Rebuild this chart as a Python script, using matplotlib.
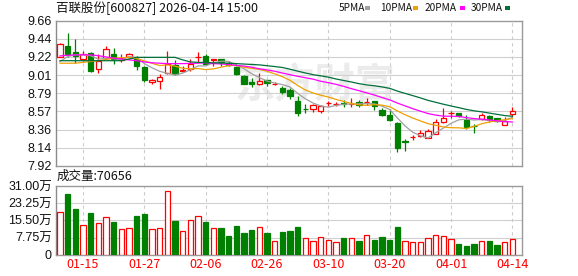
import numpy as np
import matplotlib
matplotlib.use("Agg")
import matplotlib.pyplot as plt
from matplotlib.patches import Rectangle

plt.rcParams['font.family'] = ['Liberation Sans', 'Noto Sans CJK SC']

# ---- data ----
dates = ['01-12', '01-13', '01-14', '01-15', '01-16', '01-19', '01-20', '01-21', '01-22', '01-23',
         '01-26', '01-27', '01-28', '01-29', '01-30', '02-02', '02-03', '02-04', '02-05', '02-06',
         '02-09', '02-10', '02-11', '02-12', '02-13', '02-24', '02-25', '02-26', '02-27', '03-02',
         '03-03', '03-04', '03-05', '03-06', '03-09', '03-10', '03-11', '03-12', '03-13', '03-16',
         '03-17', '03-18', '03-19', '03-20', '03-23', '03-24', '03-25', '03-26', '03-27', '03-30',
         '03-31', '04-01', '04-02', '04-03', '04-07', '04-08', '04-09', '04-10', '04-13', '04-14']

opens = [9.23, 9.36, 9.285, 9.205, 9.27, 9.078, 9.217, 9.26, 9.19, 9.22,
         9.205, 9.105, 8.923, 8.935, 9.03, 9.133, 9.055, 9.082, 9.22, 9.237,
         9.185, 9.197, 9.15, 9.105, 9.0, 8.923, 8.899, 8.947, 8.90, 8.858,
         8.83, 8.699, 8.60, 8.607, 8.58, 8.67, 8.66, 8.67, 8.66, 8.684,
         8.685, 8.699, 8.592, 8.536, 8.433, 8.213, 8.265, 8.273, 8.26, 8.308,
         8.448, 8.55, 8.553, 8.472, 8.402, 8.48, 8.52, 8.492, 8.409, 8.548]
highs = [9.39, 9.515, 9.44, 9.293, 9.285, 9.257, 9.356, 9.33, 9.26, 9.276,
         9.237, 9.117, 8.962, 9.018, 9.293, 9.19, 9.12, 9.197, 9.288, 9.257,
         9.205, 9.20, 9.177, 9.114, 9.01, 8.978, 9.037, 8.954, 8.92, 8.875,
         8.85, 8.755, 8.66, 8.667, 8.648, 8.70, 8.69, 8.71, 8.73, 8.707,
         8.738, 8.70, 8.612, 8.60, 8.452, 8.245, 8.29, 8.349, 8.368, 8.48,
         8.612, 8.576, 8.555, 8.528, 8.42, 8.56, 8.535, 8.50, 8.512, 8.62]
lows = [9.22, 9.23, 9.15, 9.18, 9.042, 9.037, 9.197, 9.14, 9.17, 9.21,
        9.07, 8.93, 8.906, 8.846, 9.018, 9.006, 9.04, 9.058, 9.17, 9.13,
        9.117, 9.114, 9.114, 9.01, 8.898, 8.866, 8.895, 8.875, 8.89, 8.786,
        8.727, 8.524, 8.552, 8.571, 8.552, 8.64, 8.64, 8.63, 8.63, 8.63,
        8.652, 8.59, 8.52, 8.46, 8.086, 8.10, 8.23, 8.266, 8.254, 8.305,
        8.44, 8.496, 8.512, 8.368, 8.313, 8.472, 8.448, 8.448, 8.409, 8.52]
closes = [9.38, 9.26, 9.24, 9.257, 9.061, 9.173, 9.317, 9.205, 9.21, 9.257,
          9.12, 8.95, 8.955, 8.986, 9.141, 9.018, 9.065, 9.141, 9.225, 9.141,
          9.195, 9.17, 9.126, 9.018, 8.906, 8.899, 8.942, 8.915, 8.905, 8.807,
          8.759, 8.552, 8.60, 8.648, 8.64, 8.676, 8.665, 8.664, 8.665, 8.652,
          8.69, 8.643, 8.528, 8.469, 8.141, 8.213, 8.27, 8.313, 8.34, 8.452,
          8.496, 8.553, 8.52, 8.385, 8.398, 8.528, 8.48, 8.464, 8.464, 8.58]

# volume in 万手
volumes = [19.2, 27.5, 20.7, 13.3, 19.0, 14.2, 16.9, 14.8, 11.5, 12.0,
           17.5, 18.4, 11.5, 12.0, 28.6, 15.3, 10.8, 15.6, 17.5, 14.8,
           12.0, 12.1, 8.5, 13.0, 9.9, 11.2, 12.4, 9.9, 6.3, 10.3,
           10.8, 12.6, 7.5, 6.3, 7.9, 6.7, 5.8, 7.6, 7.6, 6.3,
           8.8, 6.7, 8.1, 6.9, 12.6, 6.3, 5.8, 5.8, 7.5, 8.8,
           8.4, 7.0, 4.9, 4.0, 4.8, 6.3, 6.3, 4.5, 5.8, 7.07]

ma5 = [9.17, 9.23, 9.25, 9.25, 9.240, 9.198, 9.210, 9.203, 9.191, 9.230,
       9.220, 9.146, 9.095, 9.053, 9.029, 9.009, 9.032, 9.070, 9.118, 9.118,
       9.153, 9.174, 9.171, 9.130, 9.083, 9.024, 8.978, 8.936, 8.913, 8.894,
       8.866, 8.788, 8.724, 8.673, 8.639, 8.623, 8.645, 8.659, 8.662, 8.664,
       8.667, 8.663, 8.636, 8.596, 8.494, 8.399, 8.324, 8.281, 8.255, 8.318,
       8.374, 8.431, 8.472, 8.481, 8.470, 8.477, 8.462, 8.451, 8.467, 8.503]
ma10 = [9.15, 9.15, 9.15, 9.16, 9.17, 9.18, 9.195, 9.21, 9.215, 9.22,
        9.205, 9.178, 9.149, 9.122, 9.130, 9.115, 9.089, 9.083, 9.086, 9.074,
        9.081, 9.103, 9.121, 9.124, 9.101, 9.089, 9.076, 9.054, 9.022, 8.989,
        8.945, 8.883, 8.830, 8.793, 8.767, 8.745, 8.717, 8.692, 8.668, 8.652,
        8.645, 8.654, 8.648, 8.629, 8.579, 8.533, 8.494, 8.459, 8.426, 8.406,
        8.387, 8.378, 8.377, 8.368, 8.394, 8.426, 8.447, 8.462, 8.474, 8.487]
ma20 = [9.237, 9.245, 9.25, 9.25, 9.25, 9.24, 9.225, 9.21, 9.20, 9.19,
        9.18, 9.165, 9.155, 9.15, 9.145, 9.145, 9.145, 9.148, 9.15, 9.155,
        9.145, 9.141, 9.135, 9.123, 9.116, 9.102, 9.083, 9.069, 9.054, 9.032,
        9.013, 8.993, 8.976, 8.959, 8.934, 8.917, 8.897, 8.873, 8.845, 8.821,
        8.795, 8.769, 8.739, 8.711, 8.673, 8.639, 8.606, 8.576, 8.547, 8.529,
        8.516, 8.516, 8.513, 8.499, 8.487, 8.480, 8.471, 8.461, 8.450, 8.447]
ma30 = [9.18, 9.18, 9.18, 9.18, 9.18, 9.18, 9.18, 9.18, 9.18, 9.20,
        9.22, 9.22, 9.22, 9.22, 9.22, 9.22, 9.19, 9.165, 9.16, 9.158,
        9.155, 9.152, 9.15, 9.145, 9.14, 9.135, 9.13, 9.12, 9.11, 9.099,
        9.078, 9.055, 9.033, 9.013, 8.999, 8.983, 8.961, 8.943, 8.925, 8.905,
        8.890, 8.880, 8.866, 8.849, 8.816, 8.789, 8.762, 8.735, 8.705, 8.682,
        8.659, 8.638, 8.618, 8.597, 8.580, 8.568, 8.553, 8.538, 8.523, 8.515]

price_ticks = [9.66, 9.4425, 9.225, 9.0075, 8.79, 8.5725, 8.355, 8.1375, 7.92]
price_labels = ['9.66', '9.44', '9.22', '9.01', '8.79', '8.57', '8.36', '8.14', '7.92']
vol_ticks = [0, 7.75, 15.5, 23.25, 31.0]
vol_labels = ['0', '7.75万', '15.50万', '23.25万', '31.00万']
date_labels = ['01-15', '01-27', '02-06', '02-26', '03-10', '03-20', '04-01', '04-14']

RED = '#FF0000'
GREEN = '#008000'
MA_COLORS = ['#A0A0A0', '#F0A000', '#FF00FF', '#006F3A']

x = np.arange(len(dates))
o = np.array(opens)
c = np.array(closes)
up = c > o
vol_up = c >= o
date_pos = [dates.index(d) for d in date_labels]

fig = plt.figure(figsize=(5.78, 2.76), dpi=100)
ax = fig.add_axes([0.0969, 0.3986, 0.806, 0.5268])
axv = fig.add_axes([0.0969, 0.0761, 0.806, 0.25])

# watermark
ax.text(0.556, 0.55, '东方财富', transform=ax.transAxes, ha='center', va='center',
        fontsize=29, fontweight='bold', color='#ebebeb', family='Noto Sans CJK SC', zorder=0.5)

# candles
colors = np.where(up, RED, GREEN)
ax.vlines(x, lows, highs, colors=colors, linewidth=0.9, zorder=2)
bottom = np.minimum(o, c)
height = np.maximum(np.abs(c - o), 0.004)
ax.bar(x[up], height[up], bottom=bottom[up], width=0.68, facecolor='white',
       edgecolor=RED, linewidth=0.9, zorder=3)
ax.bar(x[~up], height[~up], bottom=bottom[~up], width=0.68, facecolor=GREEN,
       edgecolor=GREEN, linewidth=0.9, zorder=3)

for ma, col in zip([ma5, ma10, ma20, ma30], MA_COLORS):
    ax.plot(x, ma, color=col, linewidth=0.9, zorder=4)

# volume
axv.bar(x[vol_up], np.array(volumes)[vol_up], width=0.68, facecolor='white',
        edgecolor=RED, linewidth=0.9, zorder=3)
axv.bar(x[~vol_up], np.array(volumes)[~vol_up], width=0.68, facecolor=GREEN,
        edgecolor=GREEN, linewidth=0.9, zorder=3)

for a, ticks, labels, lim in [(ax, price_ticks, price_labels, (7.92, 9.66)),
                              (axv, vol_ticks, vol_labels, (0, 31.0))]:
    a.set_xlim(-0.52, 60.23)
    a.set_ylim(*lim)
    a.set_yticks(ticks)
    a.set_yticklabels(labels, fontsize=9, color='#111111')
    a.tick_params(axis='y', length=0, pad=3)
    for t in ticks[1:-1]:
        a.axhline(t, color='#d0d0d0', linewidth=0.8, zorder=1)
    for p in date_pos:
        a.axvline(p, color='#cccccc', linewidth=0.8, linestyle=(0, (3, 3)), zorder=1)
    for s in a.spines.values():
        s.set_color('#9a9a9a')
        s.set_linewidth(1.0)
    a.spines['left'].set_color('#8a8a8a')

ax.set_xticks([])
axv.set_xticks(date_pos)
axv.set_xticklabels(date_labels, fontsize=9, color=RED, family='Noto Sans CJK SC')
axv.tick_params(axis='x', length=0, pad=2)

# header
fig.text(56 / 578, 1 - 8 / 276, '百联股份[600827] 2026-04-14 15:00', fontsize=9,
         family='Noto Sans CJK SC', va='center', ha='left', color='#111111')
leg = [('5PMA', 339), ('10PMA', 380), ('20PMA', 425), ('30PMA', 471)]
for name, px in leg:
    fig.text(px / 578, 1 - 8 / 276, name, fontsize=7.3, family='Noto Sans CJK SC',
             va='center', ha='left', color='#111111')
leg_sq = [365, 413, 460, 505]
for px, col in zip(leg_sq, MA_COLORS):
    fig.add_artist(Rectangle((px / 578, 1 - 10 / 276), 5 / 578, 4 / 276,
                             transform=fig.transFigure, facecolor=col, edgecolor='none'))

fig.text(57 / 578, 1 - 176 / 276, '成交量:70656', fontsize=9, family='Noto Sans CJK SC',
         va='center', ha='left', color='#111111')

fig.savefig('out.png', dpi=100)
